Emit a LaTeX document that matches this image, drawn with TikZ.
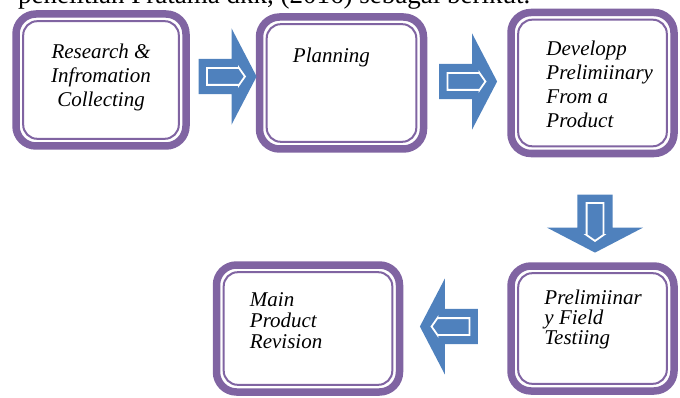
\documentclass[tikz,border=0pt]{standalone}
\usepackage{fontspec}
\setmainfont{Liberation Serif}
\usetikzlibrary{shapes.arrows, positioning}
\definecolor{stagePurple}{RGB}{128,100,162}
\definecolor{flowBlue}{RGB}{79,129,189}
\tikzset{
  rd/stage/.style={rectangle, draw=stagePurple, fill=white,
    line width=7.5pt, rounded corners=20pt, inner sep=0pt,
    path picture={\draw[stagePurple, line width=2pt, rounded corners=14pt]
      ([shift={(7.2pt,-7.2pt)}]path picture bounding box.north west) rectangle
      ([shift={(-7.2pt,7.2pt)}]path picture bounding box.south east);}},
  rd/txt/.style={font=\fontsize{21}{24}\selectfont\itshape,
    inner sep=0pt, align=left},
  rd/arrow/.style={single arrow, fill=flowBlue, draw=none,
    minimum height=58pt, inner xsep=0pt, inner ysep=17.5pt,
    text height=0pt, text depth=0pt,
    single arrow head extend=30.5pt, single arrow tip angle=125},
  rd/core/.style={single arrow, fill=flowBlue, draw=white, line width=1.8pt,
    minimum height=38pt, inner xsep=0pt, inner ysep=7.5pt,
    text height=0pt, text depth=0pt,
    single arrow head extend=0.01pt, single arrow tip angle=110}
}
\begin{document}
\begin{tikzpicture}[x=1pt, y=1pt]
  \useasboundingbox (0,0) rectangle (680,397);
  \clip (0,0) rectangle (680,397);
  \node[font=\fontsize{27}{30}\selectfont, anchor=base west, inner sep=0pt]
    (lead) at (18,393.5) {penelitian Pratama dkk, (2016) sebagai berikut.};

  % stages
  \node[rd/stage, minimum width=170pt, minimum height=132pt] (research) at (101,317) {};
  \node[rd/stage, minimum width=164pt, minimum height=132pt,
    right=66pt of research, yshift=-3pt] (planning) {};
  \node[rd/stage, minimum width=163pt, minimum height=141pt,
    right=80pt of planning] (develop) {};
  \node[rd/stage, minimum width=163pt, minimum height=125pt,
    below=105pt of develop] (fieldtest) {};
  \node[rd/stage, minimum width=183pt, minimum height=127pt,
    left=104pt of fieldtest] (revision) {};

  % texts (base = last line)
  \node[rd/txt, align=center, anchor=base] (researchtxt)
    at ([yshift=-96pt]research.north) {Research \&\\Infromation\\Collecting};
  \node[rd/txt, anchor=base west] (planningtxt)
    at ([shift={(37pt,-49pt)}]planning.north west) {Planning};
  \node[rd/txt, anchor=base west] (developtxt)
    at ([shift={(39pt,-119pt)}]develop.north west) {Developp\\Prelimiinary\\From a\\Product};
  \node[rd/txt, font=\fontsize{21}{20}\selectfont\itshape, anchor=base west] (fieldtxt)
    at ([shift={(37pt,-82pt)}]fieldtest.north west) {Prelimiinar\\y Field\\Testiing};
  \node[rd/txt, font=\fontsize{21}{21}\selectfont\itshape, anchor=base west] (revisiontxt)
    at ([shift={(37pt,-87pt)}]revision.north west) {Main\\Product\\Revision};

  % block arrows
  \node[rd/arrow] (arr1) at (223,320.5) {};
  \node[rd/core] (core1) at (arr1) {};
  \node[rd/arrow] (arr2) at (463.5,315.5) {};
  \node[rd/core] (core2) at (arr2) {};
  \node[rd/arrow, rotate=-90] (arr3) at (595,178) {};
  \node[rd/core, rotate=-90] (core3) at (arr3) {};
  \node[rd/arrow, rotate=180] (arr4) at (453.5,70.5) {};
  \node[rd/core, rotate=180] (core4) at (arr4) {};
\end{tikzpicture}
\end{document}
